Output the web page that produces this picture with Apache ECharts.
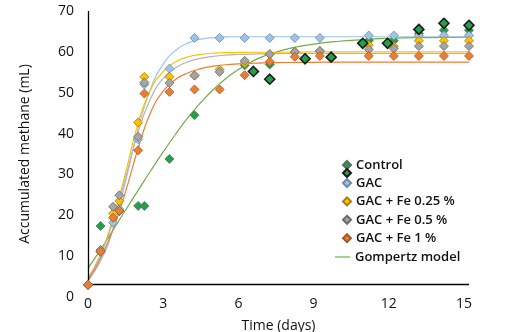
<!DOCTYPE html>
<html>
<head>
<meta charset="utf-8">
<script src="https://cdn.jsdelivr.net/npm/echarts@6/dist/echarts.min.js"></script>
<style>html,body{margin:0;padding:0;background:#fff}#c{width:520px;height:332px}</style>
</head>
<body>
<div id="c"></div>
<script>
// ---- data ----
const xTickLabels = [0, 3, 6, 9, 12, 15];
const yTickLabels = [0, 10, 20, 30, 40, 50, 60, 70];
const xAxisCrossAt = 3;      // horizontal axis crosses the y axis at this value
const xMax = 15.2;

const controlTimes = [0, 0.5, 1.25, 2.0, 2.25, 3.25, 4.25, 6.25, 7.25, 11.2, 12.2, 13.2, 14.2, 15.2];
const controlValues = [3, 17.4, 21, 22.3, 22.3, 33.8, 44.5, 56.7, 56.9, 62.8, 62.7, 64.5, 65.3, 65.3];

const control2Times = [6.6, 7.25, 8.66, 9.7, 10.96, 11.95, 13.2, 14.2, 15.2];
const control2Values = [55.2, 53.3, 58.3, 58.7, 62.1, 62.1, 65.5, 67.0, 66.5];

const treatTimes = [0, 0.5, 1, 1.25, 2, 2.25, 3.25, 4.25, 5.25, 6.25, 7.25, 8.25, 9.25, 11.2, 12.2, 13.2, 14.2, 15.2];
const gacValues   = [3, 11, 18.2, 21.5, 38.6, 52, 55.9, 63.4, 63.4, 63.4, 63.4, 63.4, 63.4, 64.0, 64.0, 64.0, 64.0, 64.0];
const fe025Values = [3, 11.2, 20.5, 23.5, 42.7, 53.9, 53.9, 54.2, 55.7, 57.2, 59.4, 60.0, 60.2, 61.6, 61.4, 62.7, 62.7, 62.7];
const fe05Values  = [3, 11.5, 22.1, 24.9, 39.2, 52.5, 52.4, 54.2, 55.1, 57.8, 59.4, 60.0, 60.2, 60.6, 60.8, 61.4, 61.4, 61.4];
const fe1Values   = [3, 11.1, 19.4, 21.1, 35.9, 49.8, 50.2, 50.8, 50.8, 54.3, 57.6, 58.8, 59.0, 59.0, 59.0, 59.0, 59.0, 59.0];

// Gompertz model curves
const curveTimes   = [0, 0.5, 1, 1.5, 2, 2.5, 3, 3.5, 4, 4.5, 5, 5.5, 6, 6.5, 7, 8, 9, 10, 11, 12, 13.5, 15.2];
const curveControl = [7, 11.6, 16.4, 21.3, 26.1, 30.9, 35.5, 39.9, 44.0, 47.6, 50.8, 53.5, 55.7, 57.5, 58.9, 60.8, 61.9, 62.6, 63.0, 63.3, 63.5, 63.6];
const curveGac     = [4, 8.8, 16.6, 28.3, 41.2, 51.0, 57.0, 60.4, 62.2, 63.1, 63.5, 63.65, 63.7, 63.7, 63.7, 63.7, 63.7, 63.7, 63.7, 63.7, 63.7, 63.7];
const curveFe025   = [4.5, 10.4, 19.2, 30.4, 42.6, 50.8, 55.2, 57.6, 58.8, 59.4, 59.7, 59.8, 59.85, 59.9, 59.9, 59.9, 60, 60, 60, 60, 60, 60];
const curveFe05    = [4.5, 10.2, 18.6, 29.2, 40.4, 48.6, 53.5, 56.1, 57.6, 58.4, 58.9, 59.2, 59.35, 59.45, 59.5, 59.6, 59.6, 59.6, 59.6, 59.6, 59.6, 59.6];
const curveFe1     = [4, 9.4, 16.6, 25.8, 36.4, 45.2, 50.4, 53.3, 54.9, 55.9, 56.5, 56.85, 57.05, 57.2, 57.3, 57.4, 57.45, 57.5, 57.5, 57.5, 57.5, 57.5];

const pairs = (xs, ys) => xs.map((x, i) => [x, ys[i]]);
const FONT = '"Open Sans", "Noto Sans", sans-serif';

const pointSeries = (name, xs, ys, color, border, bw, size, z) => ({
  name, type: 'scatter', data: pairs(xs, ys), symbol: 'diamond', symbolSize: size, z,
  itemStyle: { color, borderColor: border, borderWidth: bw, opacity: 1 }
});
const curveSeries = (xs, ys, color) => ({
  name: 'Gompertz model', type: 'line', data: pairs(xs, ys), smooth: 0.5,
  showSymbol: false, symbol: 'none', z: 1,
  lineStyle: { color, width: 1.2 }, itemStyle: { color }
});

const legendText = { fontFamily: FONT, fontSize: 13, fontWeight: 600, color: '#111', lineHeight: 14 };

const chart = echarts.init(document.getElementById('c'), null, { renderer: 'canvas' });
const option = {
  animation: false,
  grid: { left: 88, right: 51, top: 11, bottom: 35, containLabel: false, outerBoundsMode: 'none' },
  xAxis: {
    type: 'value', min: 0, max: xMax,
    name: 'Time (days)', nameLocation: 'middle', nameGap: 22,
    nameTextStyle: { fontFamily: FONT, fontSize: 14, color: '#111' },
    axisLine: { show: false }, axisTick: { show: false }, splitLine: { show: false },
    axisLabel: { customValues: xTickLabels, fontFamily: FONT, fontSize: 14, color: '#111', margin: 0 }
  },
  yAxis: {
    type: 'value', min: 0, max: 70, interval: 10,
    name: 'Accumulated methane (mL)', nameLocation: 'middle', nameGap: 56, nameRotate: 90,
    nameTextStyle: { fontFamily: FONT, fontSize: 14, color: '#111' },
    axisLine: { show: false }, axisTick: { show: false }, splitLine: { show: false },
    axisLabel: { fontFamily: FONT, fontSize: 14, color: '#111', margin: 14 }
  },
  legend: [
    { data: ['Control'], orient: 'vertical', left: 337, top: 153, itemWidth: 8, itemHeight: 8, itemGap: 0, textStyle: legendText, selectedMode: false },
    { data: ['Control (2)'], orient: 'vertical', left: 337, top: 163, itemWidth: 8, itemHeight: 8, formatter: () => '', textStyle: legendText, selectedMode: false },
    { data: ['GAC', 'GAC + Fe 0.25 %', 'GAC + Fe 0.5 %', 'GAC + Fe 1 %'], orient: 'vertical', left: 337, top: 171, itemWidth: 8, itemHeight: 8, itemGap: 4.4, textStyle: legendText, selectedMode: false },
    { data: [{ name: 'Gompertz model', icon: 'rect', itemStyle: { color: '#a9d18e', borderWidth: 0 } }], orient: 'vertical', left: 330, top: 245, itemWidth: 15, itemHeight: 2, textStyle: legendText, selectedMode: false }
  ],
  series: [
    Object.assign(curveSeries(curveTimes, curveControl, '#70ad47'), {
      markLine: {
        silent: true, symbol: 'none', label: { show: false }, animation: false,
        lineStyle: { color: '#000', width: 1.3, type: 'solid' },
        data: [
          [{ coord: [0, xAxisCrossAt] }, { coord: [xMax, xAxisCrossAt] }],
          [{ coord: [0, xAxisCrossAt] }, { coord: [0, 70] }]
        ]
      }
    }),
    curveSeries(curveTimes, curveGac, '#9dc3e6'),
    curveSeries(curveTimes, curveFe025, '#ffc000'),
    curveSeries(curveTimes, curveFe05, '#b4b4b4'),
    curveSeries(curveTimes, curveFe1, '#ed7d31'),
    pointSeries('Control', controlTimes, controlValues, '#22a04b', '#5a6b5e', 0.8, 9, 3),
    pointSeries('GAC', treatTimes, gacValues, '#9dc3e6', '#6f8aa6', 0.8, 9, 4),
    pointSeries('GAC + Fe 0.25 %', treatTimes, fe025Values, '#ffc000', '#a37d10', 0.8, 9, 5),
    pointSeries('GAC + Fe 0.5 %', treatTimes, fe05Values, '#a5a5a5', '#6b6b6b', 0.8, 9, 6),
    pointSeries('GAC + Fe 1 %', treatTimes, fe1Values, '#ed7d31', '#9e5a2e', 0.8, 9, 7),
    pointSeries('Control (2)', control2Times, control2Values, '#22a04b', '#1a1a1a', 1.6, 10, 8)
  ]
};
chart.setOption(option);
</script>
</body>
</html>
